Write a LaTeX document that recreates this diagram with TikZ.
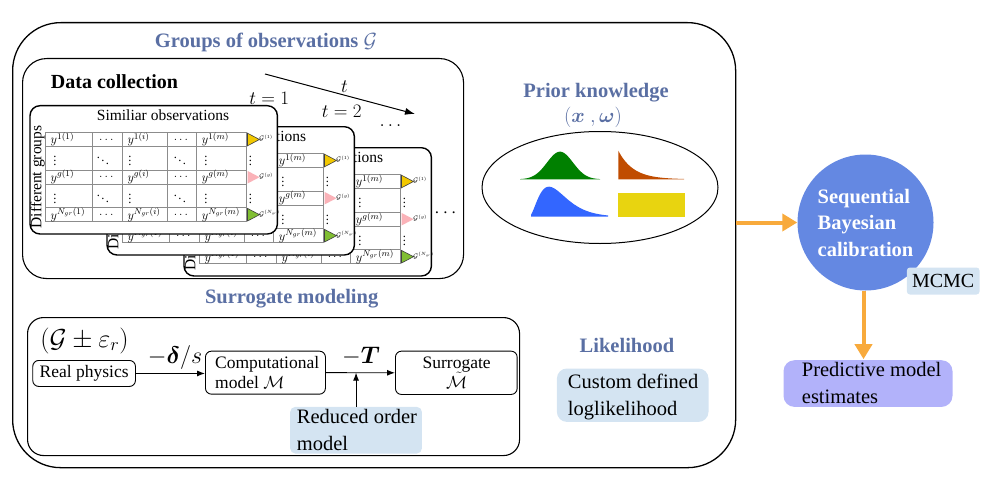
\RequirePackage{fix-cm}
\documentclass[tikz,border=0pt]{standalone}
\usepackage{amsmath}
\usepackage{bm}
\usepackage{fontspec}
\setmainfont{Liberation Serif}
\usetikzlibrary{arrows.meta,shapes.geometric,calc}
\definecolor{ttl}{RGB}{90,111,163}
\definecolor{lblue}{RGB}{212,228,242}
\definecolor{circcol}{RGB}{100,136,226}
\definecolor{lav}{RGB}{178,178,250}
\definecolor{orng}{RGB}{248,170,60}
\definecolor{tyel}{RGB}{242,200,0}
\definecolor{tpink}{RGB}{250,178,184}
\definecolor{tgrn}{RGB}{128,190,50}
\definecolor{dgreen}{RGB}{0,128,0}
\definecolor{dorange}{RGB}{192,76,0}
\definecolor{dblue}{RGB}{51,102,255}
\definecolor{dyellow}{RGB}{232,212,16}
\newcommand\obscard[3]{%
\begin{scope}[shift={(#1,#2)}]
\node[cardbox] (card#3) at (29.3,105) {};
\node[cardtitle] (ctitle#3) at (163,115.5) {Similiar observations};
\node[cardtitle, rotate=90] (cside#3) at (37.5,177) {Different groups};
\draw[gridline] (45.7,132.3) rectangle (246.7,221.7);
\foreach \yy in {146.7,170,184.3,207.7} \draw[gridline] (45.7,\yy) -- (246.7,\yy);
\foreach \xx in {92.3,122.3,167.3,196.7} \draw[gridline] (\xx,132.3) -- (\xx,221.7);
\foreach \r/\yy/\myg in {1/139.5/1, 3/177.2/g, 5/214.9/N_{gr}} {
  \node[entry] (e#3-\r-1) at (50.5,\yy) {$y^{\myg(1)}$};
  \node[entry, anchor=center] (e#3-\r-2) at (107.3,\yy) {$\dots$};
  \node[entry] (e#3-\r-3) at (127.3,\yy) {$y^{\myg(i)}$};
  \node[entry, anchor=center] (e#3-\r-4) at (182,\yy) {$\dots$};
  \node[entry] (e#3-\r-5) at (201.7,\yy) {$y^{\myg(m)}$};
}
\foreach \r/\yy in {2/158.3, 4/196.1} {
  \node[entry, anchor=center] (e#3-\r-1) at (55,\yy) {$\vdots$};
  \node[entry, anchor=center] (e#3-\r-2) at (103,\yy) {$\ddots$};
  \node[entry, anchor=center] (e#3-\r-3) at (130,\yy) {$\vdots$};
  \node[entry, anchor=center] (e#3-\r-4) at (180,\yy) {$\ddots$};
  \node[entry, anchor=center] (e#3-\r-5) at (206,\yy) {$\vdots$};
  \node[entry, anchor=center] (v#3-\r) at (250.5,\yy) {$\vdots$};
}
\draw[fill=tyel, draw=black!75, line width=0.6] (247.5,133.2) -- (259.5,139.5) -- (247.5,145.8) -- cycle;
\fill[tpink] (247.5,170.9) -- (259.5,177.2) -- (247.5,183.5) -- cycle;
\draw[fill=tgrn, draw=black!75, line width=0.6] (247.5,208.4) -- (259.5,214.7) -- (247.5,221) -- cycle;
\node[glab] (g#3-1) at (259,138) {$\mathcal{G}^{(1)}$};
\node[glab] (g#3-2) at (259,176) {$\mathcal{G}^{(g)}$};
\node[glab] (g#3-3) at (259,213.5) {$\mathcal{G}^{(N_{gr})}$};
\end{scope}}
\begin{document}
\begin{tikzpicture}[x=1pt,y=-1pt,
  bigbox/.style={draw=black, line width=1.3, rounded corners=#1, anchor=north west, inner sep=0},
  cardbox/.style={draw=black, line width=1.4, fill=white, rounded corners=10, minimum width=247.4, minimum height=128.3, anchor=north west, inner sep=0},
  cardtitle/.style={font=\fontsize{15.5}{18}\selectfont, inner sep=0},
  gridline/.style={draw=black!45, line width=0.8},
  entry/.style={font=\fontsize{12.5}{14}\selectfont, anchor=west, inner sep=0},
  glab/.style={font=\fontsize{6.5}{7}\selectfont, anchor=west, inner sep=0},
  sectitle/.style={font=\fontsize{20.5}{24}\selectfont\bfseries, text=ttl, inner sep=0},
  rbox/.style={draw=black, line width=0.9, rounded corners=6, inner sep=0, anchor=north west},
  fillbox/.style={rounded corners=#1, inner sep=0, anchor=north west},
  btext/.style={font=\fontsize{20.5}{26.7}\selectfont, align=left, inner sep=0, anchor=north west},
  stext/.style={font=\fontsize{17.5}{20}\selectfont, inner sep=0},
  blk/.style={-{Latex[length=8,width=6]}, line width=0.9},
  oarrow/.style={draw=orng, line width=4, -{Triangle[length=15,width=17]}}
]
\useasboundingbox (0,0) rectangle (1000,484);
% outer box
\node[bigbox=48, minimum width=723, minimum height=445] (outer) at (12,22) {};
\node[sectitle] (tgroups) at (266,42) {Groups of observations $\mathcal{G}$};
% data collection box
\node[bigbox=24, minimum width=441, minimum height=220, line width=1.1] (dc) at (22,58) {};
\node[font=\fontsize{20}{24}\selectfont\bfseries, inner sep=0] (dctitle) at (114.5,82) {Data collection};
% time arrow
\coordinate (ta) at (265,74);
\coordinate (tb) at (415,114);
\draw[-{Latex[length=10,width=7]}, line width=1] (ta) -- (tb) node[pos=0.53, above=2pt, font=\fontsize{19}{22}\selectfont, inner sep=0] (tlab) {$t$};
\node[font=\fontsize{19}{22}\selectfont, inner sep=0] (t1) at (269.3,98.3) {$t=1$};
\node[font=\fontsize{19}{22}\selectfont, inner sep=0] (t2) at (341.7,111.7) {$t=2$};
\node[font=\fontsize{19}{22}\selectfont, inner sep=0, anchor=base] (tdots) at (392,126) {$\dots$};
% cards
\obscard{154}{42}{c}
\obscard{77}{21}{b}
\obscard{0}{0}{a}
\node[font=\fontsize{19}{22}\selectfont, inner sep=0] (cdots) at (447,213) {$\cdots$};
% prior knowledge
\node[sectitle] (tprior) at (596,93) {Prior knowledge};
\node[font=\fontsize{20.5}{24}\selectfont, text=ttl, inner sep=0] (tprior2) at (593,117) {$(\bm{x}\ ,\bm{\omega})$};
\node[draw=black, line width=1, ellipse, minimum width=236, minimum height=112, inner sep=0] (prior) at (600,187.5) {};
\fill[dgreen] (520,179.3) -- plot[domain=520:600, samples=60] (\x,{179.3-27.6*exp(-((\x-560)/13)^2/2)}) -- (600,179.3) -- cycle;
\fill[dorange] (618.3,179.3) -- plot[domain=618.3:684, samples=50] (\x,{179.3-28.6*exp(-(\x-618.3)/15)}) -- (684,179.3) -- cycle;
\fill[dblue] (531,216.7) -- plot[domain=531:608, samples=60] (\x,{216.7-30*((\x-529)/10)^2*exp(-(\x-529)/10)/0.5413}) -- (608,216.7) -- cycle;
\fill[dyellow] (618,193) rectangle (685,216.7);
% likelihood
\node[sectitle] (tlik) at (627,345) {Likelihood};
\node[fillbox=10, fill=lblue, minimum width=151.6, minimum height=53.4] (likbox) at (556.7,368.3) {};
\node[btext] (liktext) at (567.7,374) {Custom defined\\loglikelihood};
% surrogate modeling
\node[sectitle] (tsurr) at (291.7,298.3) {Surrogate modeling};
\node[bigbox=16, minimum width=492, minimum height=138, line width=1.1] (sbox) at (27,317) {};
\node[font=\fontsize{26}{30}\selectfont, inner sep=0] (gpe) at (84.5,340.5) {$(\mathcal{G}\pm\varepsilon_r)$};
\node[rbox, minimum width=102.7, minimum height=26] (real) at (32.3,360) {};
\node[stext] (realt) at (real.center) {Real physics};
\node[rbox, minimum width=120, minimum height=43] (comp) at (205,350.7) {};
\node[stext, align=left, anchor=north west, font=\fontsize{17.5}{20}\selectfont] (compt) at (215,356.5) {Computational\\model $\mathcal{M}$};
\node[rbox, minimum width=121.7, minimum height=43.3] (surr) at (395,350.7) {};
\node[stext, align=center, anchor=north, font=\fontsize{17.5}{20}\selectfont] (surrt) at (456.7,356.5) {Surrogate\\$\tilde{\mathcal{M}}$};
\draw[blk] (real.east) -- (comp.west |- real.east);
\node[font=\fontsize{24}{28}\selectfont, inner sep=0] (dlab) at (175,357) {$-\bm{\delta}/s$};
\draw[blk] (comp.east) -- (surr.west);
\node[font=\fontsize{24}{28}\selectfont, inner sep=0] (tT) at (361,356) {$-\bm{T}$};
\node[fillbox=5, fill=lblue, minimum width=131.7, minimum height=46.6] (rom) at (290,406.7) {};
\node[btext] (romt) at (296.7,409) {Reduced order\\model};
\draw[blk] (rom.north) -- (rom.north |- comp.east);
% Bayesian calibration
\node[circle, fill=circcol, minimum size=136, inner sep=0, text=white, align=left, font=\fontsize{20.5}{26.5}\selectfont\bfseries] (calib) at (865.5,222.5) {Sequential\\Bayesian\\calibration};
\node[fillbox=3, fill=lblue, minimum width=72.6, minimum height=27] (mcmc) at (906.7,267.3) {};
\node[font=\fontsize{20}{24}\selectfont, inner sep=0] (mcmct) at (mcmc.center) {MCMC};
\node[fillbox=11, fill=lav, minimum width=169, minimum height=46.7] (pred) at (783.3,360) {};
\node[btext] (predt) at (801.7,362) {Predictive model\\estimates};
\draw[oarrow] (calib.west -| outer.east) -- (calib.west);
\draw[oarrow] (calib.south -| pred.north) ++(-4.5,0) -- ++(0,68.5);
\end{tikzpicture}
\end{document}
